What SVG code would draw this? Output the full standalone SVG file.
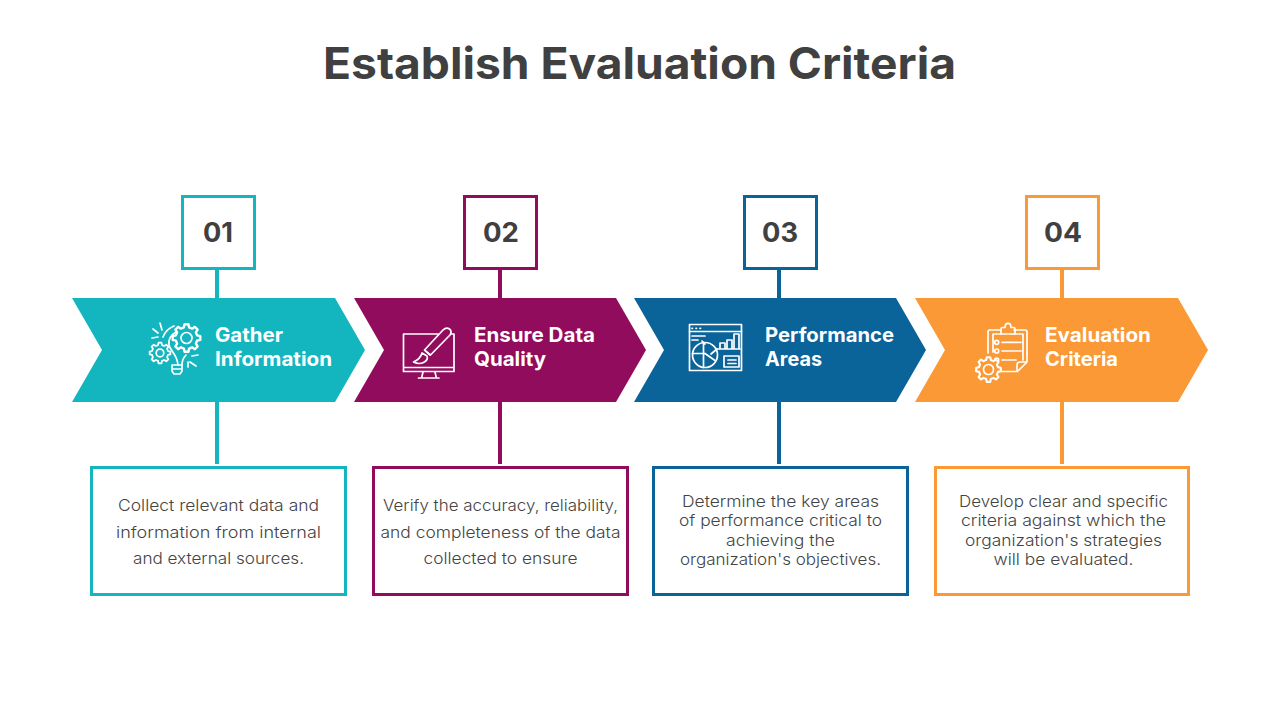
<svg xmlns="http://www.w3.org/2000/svg" width="1280" height="720" viewBox="0 0 1280 720">
<style>
text{font-family:Inter,"Liberation Sans",sans-serif}
.title{font-size:44px;font-weight:700;fill:#404040}
.num{font-size:27px;font-weight:700;fill:#404040;text-anchor:middle}
.head{font-size:20px;font-weight:700;fill:#fff}
.body{font-size:16px;font-weight:300;fill:#444;text-anchor:middle}
.box{fill:#fff;stroke-width:3}
.ic{fill:none;stroke:#fff;stroke-width:1.7;stroke-linecap:round;stroke-linejoin:round}
.ic path,.ic circle,.ic rect{vector-effect:non-scaling-stroke}
.t{stroke:#13b6bf}.p{stroke:#910c5c}.b{stroke:#0a6399}.o{stroke:#fa9935}
.conn{stroke-width:4;fill:none}
</style>
<defs>
<path id="gear" d="M-1.890-7.570L-1.390-9.850L1.390-9.850L1.890-7.570L4.020-6.690L5.980-7.950L7.950-5.980L6.690-4.020L7.570-1.890L9.850-1.390L9.850 1.390L7.570 1.890L6.690 4.020L7.950 5.980L5.980 7.950L4.020 6.690L1.890 7.570L1.390 9.850L-1.390 9.850L-1.890 7.570L-4.020 6.690L-5.980 7.950L-7.950 5.980L-6.690 4.020L-7.570 1.890L-9.850 1.390L-9.850-1.390L-7.570-1.890L-6.690-4.020L-7.950-5.980L-5.980-7.950L-4.020-6.690Z"/>
</defs>
<rect width="1280" height="720" fill="#fff"/>
<text class="title" x="323" y="78.500" textLength="633" lengthAdjust="spacingAndGlyphs">Establish Evaluation Criteria</text>
<g id="connectors">
<path class="conn t" d="M217 270V298M217 402V464"/>
<path class="conn p" d="M500 270V298M500 402V464"/>
<path class="conn b" d="M779 270V298M779 402V464"/>
<path class="conn o" d="M1062 270V298M1062 402V464"/>
</g>
<g id="node-1">
<rect class="box t" x="182.500" y="196.500" width="72" height="72"/>
<text class="num" x="218" y="241.500" textLength="30" lengthAdjust="spacingAndGlyphs">01</text>
<polygon points="72,298 335,298 365,350 335,402 72,402 102,350" fill="#13b6bf"/>
<g class="ic">
<path d="M174 326c-5 2-9 6-11 11M176 332c-5 3-8 8-7 13 1 6 8 9 9 20M182 365c0-4 1-7 4-10"/>
<use href="#gear" transform="translate(186.500 338) scale(1.400)" fill="#13b6bf"/>
<circle cx="186.500" cy="338" r="5.500"/>
<use href="#gear" transform="translate(160 353) scale(1.050)" fill="#13b6bf"/>
<circle cx="160" cy="353" r="3.800"/>
<path d="M172 365h10v6l-2 3h-6l-2-3zM172 369h10"/>
<path d="M160 323l2 7M153 329l5 4M152 338l6-1M192 356l6-1M190 362l6 4M188 362v5"/>
</g>
<text class="head" x="215" y="342" textLength="68" lengthAdjust="spacingAndGlyphs">Gather</text>
<text class="head" x="215" y="366" textLength="117" lengthAdjust="spacingAndGlyphs">Information</text>
<rect class="box t" x="91.500" y="467.500" width="254" height="127"/>
<text class="body" x="218.500" y="511" textLength="201" lengthAdjust="spacingAndGlyphs">Collect relevant data and</text>
<text class="body" x="218.500" y="538" textLength="205" lengthAdjust="spacingAndGlyphs">information from internal</text>
<text class="body" x="218.500" y="564" textLength="171" lengthAdjust="spacingAndGlyphs">and external sources.</text>
</g>
<g id="node-2">
<rect class="box p" x="464.500" y="196.500" width="72" height="72"/>
<text class="num" x="501" y="241.500" textLength="36" lengthAdjust="spacingAndGlyphs">02</text>
<polygon points="354,298 616,298 646,350 616,402 354,402 384,350" fill="#910c5c"/>
<g class="ic">
<path d="M438 334h-34.500v37.500h50.500v-37.500h-3M404 367.500h50M423 372l-1.300 5.500M435 372l1.300 5.500M418.500 378h20.500"/>
<path d="M424.500 350l18.500-20c2-2 4.500-2.500 6.500-1s2 4 .5 6l-19.500 20zM424.500 350l5.500 5"/>
<path d="M422 353c-1 4-4 7-8.500 9 3 1.500 7 2 10 .5s4.500-4 3.500-6.500z"/>
</g>
<text class="head" x="474" y="342" textLength="121" lengthAdjust="spacingAndGlyphs">Ensure Data</text>
<text class="head" x="474" y="366" textLength="72" lengthAdjust="spacingAndGlyphs">Quality</text>
<rect class="box p" x="373.500" y="467.500" width="254" height="127"/>
<text class="body" x="500.500" y="511" textLength="235" lengthAdjust="spacingAndGlyphs">Verify the accuracy, reliability,</text>
<text class="body" x="500.500" y="538" textLength="240" lengthAdjust="spacingAndGlyphs">and completeness of the data</text>
<text class="body" x="500.500" y="564" textLength="154" lengthAdjust="spacingAndGlyphs">collected to ensure</text>
</g>
<g id="node-3">
<rect class="box b" x="744.500" y="196.500" width="72" height="72"/>
<text class="num" x="780" y="241.500" textLength="36" lengthAdjust="spacingAndGlyphs">03</text>
<polygon points="634,298 896,298 926,350 896,402 634,402 664,350" fill="#0a6399"/>
<g class="ic">
<rect x="689.500" y="324.500" width="52" height="46"/>
<path d="M689.500 331.500h52M692 328.300h.5M696 328.300h.5M700 328.300h.5M692 336h13M692 340h6"/>
<circle cx="705" cy="355" r="12.500"/>
<path d="M703.500 342.500v25M692.500 353.500h11M705 353.500l10 7M705 344l-3-3M711 354l6-5"/>
<path d="M720 349v-6h5v6M727 349v-9h5v9M734 349v-15h5v15M717 349h23"/>
<rect x="724" y="356" width="15" height="11"/>
<path d="M728 360h8M728 363.500h8"/>
</g>
<text class="head" x="765" y="342" textLength="129" lengthAdjust="spacingAndGlyphs">Performance</text>
<text class="head" x="765" y="366" textLength="57" lengthAdjust="spacingAndGlyphs">Areas</text>
<rect class="box b" x="653.500" y="467.500" width="254" height="127"/>
<text class="body" x="780.500" y="507" textLength="197" lengthAdjust="spacingAndGlyphs">Determine the key areas</text>
<text class="body" x="780.500" y="526" textLength="203" lengthAdjust="spacingAndGlyphs">of performance critical to</text>
<text class="body" x="780.500" y="546" textLength="109" lengthAdjust="spacingAndGlyphs">achieving the</text>
<text class="body" x="780.500" y="565" textLength="201" lengthAdjust="spacingAndGlyphs">organization's objectives.</text>
</g>
<g id="node-4">
<rect class="box o" x="1026.500" y="196.500" width="72" height="72"/>
<text class="num" x="1063" y="241.500" textLength="38" lengthAdjust="spacingAndGlyphs">04</text>
<polygon points="915,298 1178,298 1208,350 1178,402 915,402 945,350" fill="#fa9935"/>
<g class="ic">
<path d="M1001 330h-11c-1 0-2 1-2 2v21M1014 330h11c1 0 2 1 2 2v30l-9.500 9.500h-17.500"/>
<path d="M1001 334h-8v18M1014 334h9v26"/>
<path d="M1001 334v-5c0-1 1-1.500 2-1.500h2c0-5.500 6-5.500 6 0h2c1 0 2 .5 2 1.500v5z"/>
<path d="M1026 362h-6c-2 0-3 1-3 3v6"/>
<circle cx="996.700" cy="342.300" r="2"/><circle cx="996.700" cy="351" r="2"/><circle cx="996.700" cy="360" r="2"/>
<path d="M1002 342.300h19M1002 351h19M1002 360h14"/>
<use href="#gear" transform="translate(988.500 369.500) scale(1.250)" fill="#fa9935"/>
<circle cx="988.500" cy="369.500" r="5"/>
</g>
<text class="head" x="1045" y="342" textLength="106" lengthAdjust="spacingAndGlyphs">Evaluation</text>
<text class="head" x="1045" y="366" textLength="73" lengthAdjust="spacingAndGlyphs">Criteria</text>
<rect class="box o" x="935.500" y="467.500" width="253" height="127"/>
<text class="body" x="1063.500" y="507" textLength="209" lengthAdjust="spacingAndGlyphs">Develop clear and specific</text>
<text class="body" x="1063.500" y="526" textLength="205" lengthAdjust="spacingAndGlyphs">criteria against which the</text>
<text class="body" x="1063.500" y="546" textLength="197" lengthAdjust="spacingAndGlyphs">organization's strategies</text>
<text class="body" x="1063.500" y="565" textLength="140" lengthAdjust="spacingAndGlyphs">will be evaluated.</text>
</g>
</svg>
